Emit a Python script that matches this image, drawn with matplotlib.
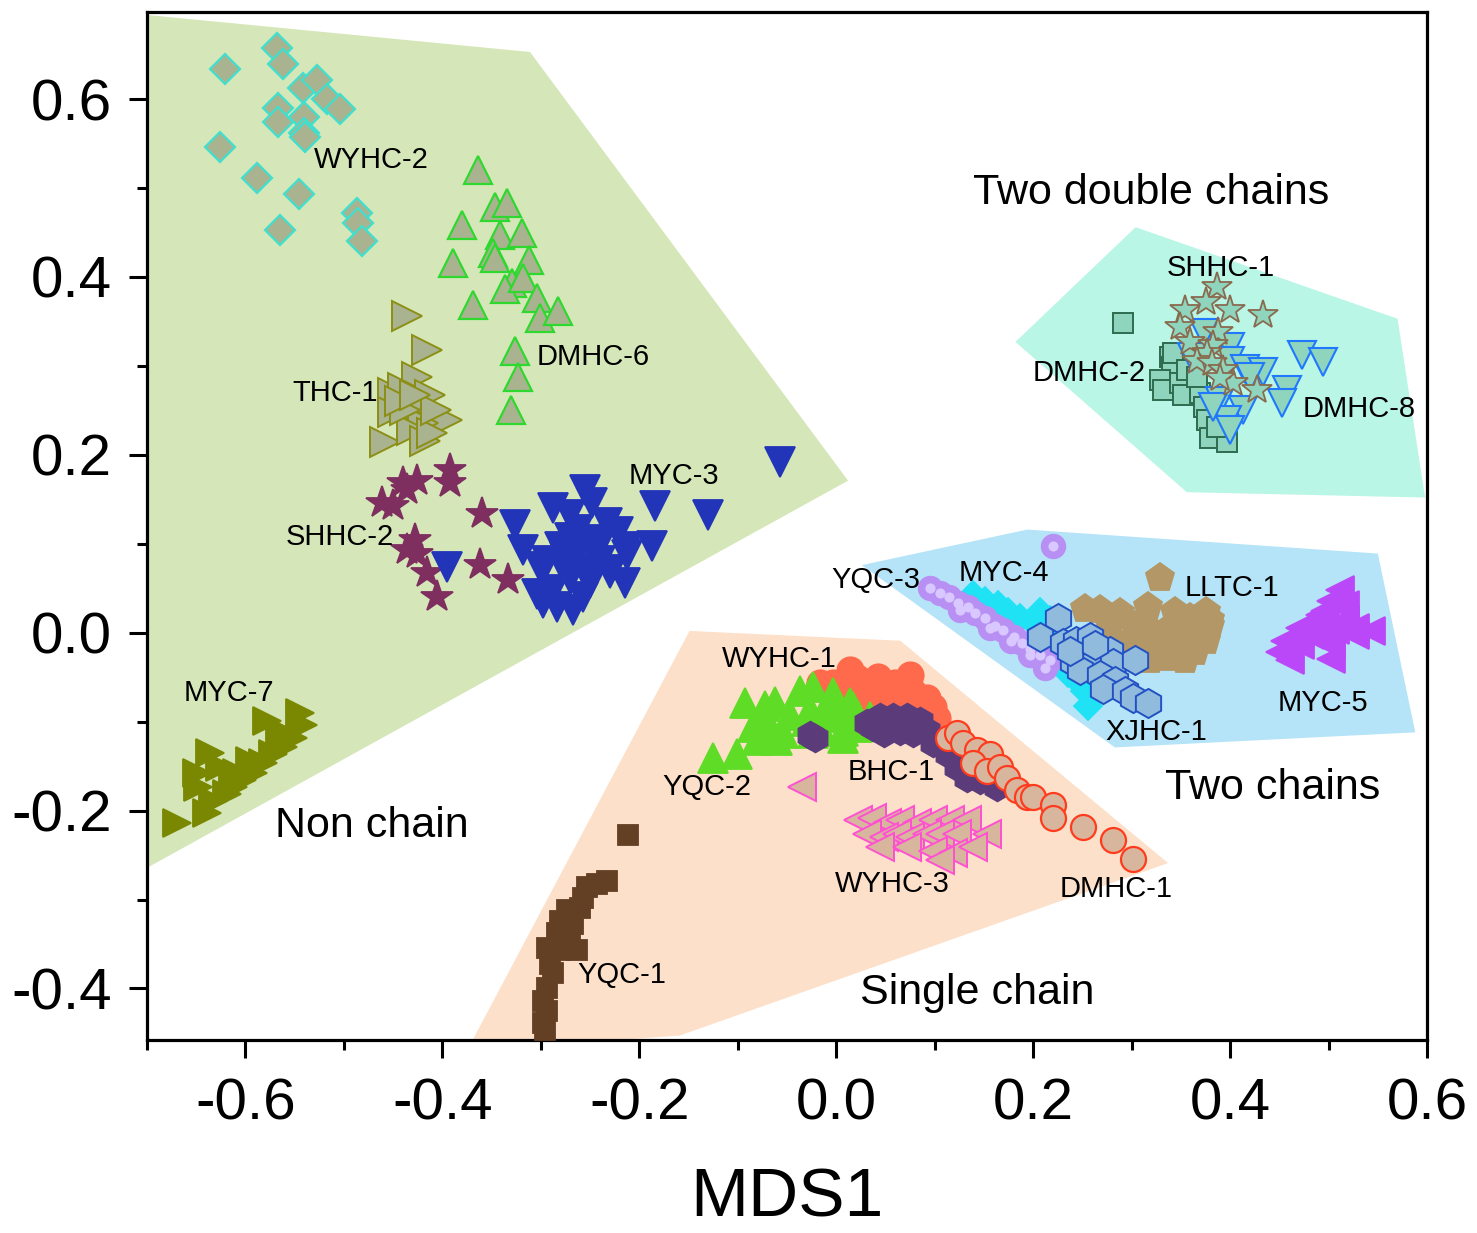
import matplotlib
matplotlib.use("Agg")
import matplotlib.pyplot as plt
from matplotlib.patches import Polygon

plt.rcParams['font.family'] = ['Liberation Sans', 'DejaVu Sans']

# ---- group outlines (hulls) ----
nonchain_hull = [(-0.75, 0.70), (-0.311, 0.653), (0.012, 0.171), (-0.75, -0.295)]
single_hull = [(-0.149, 0.002), (0.065, -0.009), (0.337, -0.259), (-0.159, -0.453), (-0.375, -0.47)]
double_hull = [(0.304, 0.456), (0.570, 0.353), (0.598, 0.152), (0.356, 0.158), (0.182, 0.327)]
two_hull = [(0.026, 0.076), (0.194, 0.116), (0.550, 0.089), (0.588, -0.112), (0.283, -0.129)]

# ---- Non chain ----
wyhc2_x = [-0.621, -0.568, -0.562, -0.542, -0.527, -0.517, -0.504, -0.567, -0.567, -0.541,
           -0.541, -0.540, -0.626, -0.588, -0.546, -0.487, -0.486, -0.482, -0.565]
wyhc2_y = [0.634, 0.658, 0.640, 0.613, 0.622, 0.600, 0.589, 0.590, 0.574, 0.580,
           0.562, 0.557, 0.546, 0.511, 0.493, 0.472, 0.461, 0.440, 0.453]

dmhc6_x = [-0.364, -0.347, -0.334, -0.380, -0.341, -0.319, -0.349, -0.347, -0.312, -0.389,
           -0.329, -0.336, -0.318, -0.304, -0.369, -0.301, -0.283, -0.326, -0.323, -0.330]
dmhc6_y = [0.520, 0.479, 0.483, 0.459, 0.447, 0.450, 0.427, 0.421, 0.419, 0.416,
           0.393, 0.387, 0.399, 0.376, 0.368, 0.354, 0.362, 0.317, 0.287, 0.250]

thc1_x = [-0.436, -0.416, -0.426, -0.450, -0.440, -0.413, -0.423, -0.450, -0.395, -0.420,
          -0.458, -0.431, -0.418, -0.411, -0.438, -0.406, -0.443, -0.428]
thc1_y = [0.356, 0.318, 0.287, 0.270, 0.275, 0.267, 0.256, 0.248, 0.239, 0.236,
          0.214, 0.228, 0.216, 0.225, 0.250, 0.250, 0.261, 0.267]

shhc2_x = [-0.392, -0.392, -0.426, -0.440, -0.436, -0.461, -0.450, -0.360, -0.428, -0.436,
           -0.426, -0.416, -0.362, -0.333, -0.405]
shhc2_y = [0.183, 0.168, 0.171, 0.168, 0.160, 0.146, 0.143, 0.134, 0.104, 0.093,
           0.089, 0.067, 0.076, 0.059, 0.040]

myc3_x = [-0.255, -0.248, -0.288, -0.270, -0.326, -0.184, -0.130, -0.233, -0.222, -0.270,
          -0.253, -0.318, -0.281, -0.212, -0.187, -0.263, -0.294, -0.240, -0.212, -0.395,
          -0.301, -0.277, -0.247, -0.230, -0.270, -0.304, -0.288, -0.250, -0.215, -0.230,
          -0.298, -0.284, -0.267, -0.257, -0.057, -0.262, -0.240, -0.275]
myc3_y = [0.160, 0.146, 0.140, 0.132, 0.121, 0.143, 0.132, 0.123, 0.113, 0.107,
          0.104, 0.093, 0.096, 0.096, 0.098, 0.089, 0.081, 0.081, 0.087, 0.074,
          0.074, 0.074, 0.070, 0.070, 0.062, 0.044, 0.048, 0.056, 0.056, 0.067,
          0.033, 0.029, 0.025, 0.040, 0.192, 0.115, 0.100, 0.085]

myc7_x = [-0.545, -0.542, -0.578, -0.552, -0.562, -0.572, -0.582, -0.595, -0.609, -0.613,
          -0.636, -0.649, -0.648, -0.639, -0.670, -0.633, -0.619, -0.603, -0.592, -0.626, -0.565]
myc7_y = [-0.090, -0.104, -0.099, -0.118, -0.129, -0.136, -0.147, -0.144, -0.158, -0.174,
          -0.135, -0.158, -0.174, -0.203, -0.214, -0.189, -0.181, -0.166, -0.158, -0.151, -0.110]

# ---- Single chain ----
yqc1_x = [-0.211, -0.233, -0.243, -0.253, -0.257, -0.260, -0.273, -0.281, -0.267, -0.284,
          -0.270, -0.294, -0.281, -0.263, -0.291, -0.288, -0.294, -0.298, -0.294, -0.298, -0.296]
yqc1_y = [-0.228, -0.279, -0.282, -0.286, -0.298, -0.309, -0.312, -0.324, -0.327, -0.338,
          -0.343, -0.354, -0.357, -0.357, -0.372, -0.383, -0.399, -0.414, -0.425, -0.439, -0.447]

wyhc1_x = [0.014, -0.016, -0.003, 0.021, 0.042, 0.031, 0.055, 0.075, 0.078, 0.092,
           0.098, 0.048, 0.065, 0.075, 0.037, 0.102, 0.007, 0.060, 0.029]
wyhc1_y = [-0.042, -0.056, -0.057, -0.051, -0.050, -0.065, -0.061, -0.048, -0.067, -0.073,
           -0.084, -0.079, -0.076, -0.085, -0.084, -0.096, -0.076, -0.056, -0.076]

yqc2_x = [-0.125, -0.101, -0.093, -0.072, -0.062, -0.037, -0.085, -0.067, -0.054, -0.080,
          -0.060, -0.030, -0.013, -0.003, 0.007, 0.017, -0.024, -0.024, -0.003, 0.014,
          -0.027, 0.004, 0.021, 0.034, -0.016, 0.007, 0.021, -0.047, -0.072]
yqc2_y = [-0.141, -0.136, -0.079, -0.082, -0.078, -0.065, -0.106, -0.106, -0.113, -0.121,
          -0.121, -0.099, -0.091, -0.076, -0.118, -0.084, -0.113, -0.061, -0.068, -0.079,
          -0.087, -0.095, -0.091, -0.095, -0.106, -0.110, -0.106, -0.093, -0.099]

bhc1_x = [-0.027, 0.031, 0.044, 0.058, 0.072, 0.085, 0.048, 0.065, 0.092, 0.098,
          0.113, 0.123, 0.133, 0.146, 0.163, 0.037, 0.078, -0.022]
bhc1_y = [-0.115, -0.102, -0.095, -0.095, -0.095, -0.099, -0.113, -0.110, -0.110, -0.124,
          -0.136, -0.151, -0.163, -0.166, -0.174, -0.106, -0.113, -0.118]

dmhc1_x = [0.113, 0.123, 0.129, 0.143, 0.156, 0.139, 0.153, 0.166, 0.173, 0.184,
           0.194, 0.200, 0.220, 0.220, 0.251, 0.281, 0.301]
dmhc1_y = [-0.118, -0.113, -0.124, -0.132, -0.136, -0.146, -0.155, -0.151, -0.163, -0.177,
           -0.185, -0.185, -0.194, -0.208, -0.219, -0.233, -0.254]

wyhc3_x = [0.022, 0.036, 0.052, 0.065, 0.082, 0.098, 0.116, 0.133, 0.153, 0.031,
           0.048, 0.062, 0.075, 0.092, 0.105, 0.123, 0.044, 0.072, 0.098, 0.119,
           0.139, 0.105, -0.035]
wyhc3_y = [-0.211, -0.208, -0.214, -0.211, -0.214, -0.211, -0.211, -0.211, -0.226, -0.226,
           -0.230, -0.226, -0.230, -0.226, -0.226, -0.226, -0.241, -0.241, -0.245, -0.248,
           -0.241, -0.256, -0.174]

# ---- Two chains ----
yqc3_x = [0.095, 0.105, 0.114, 0.124, 0.134, 0.141, 0.151, 0.161, 0.169, 0.180,
          0.189, 0.197, 0.207, 0.217, 0.220, 0.177, 0.197, 0.212, 0.156, 0.126]
yqc3_y = [0.050, 0.045, 0.040, 0.033, 0.029, 0.022, 0.016, 0.008, 0.003, -0.005,
          -0.012, -0.018, -0.025, -0.031, 0.097, -0.009, -0.025, -0.040, 0.005, 0.025]

myc4_x = [0.139, 0.151, 0.164, 0.174, 0.187, 0.200, 0.212, 0.219, 0.225, 0.229,
          0.235, 0.246, 0.253, 0.256, 0.207, 0.217]
myc4_y = [0.042, 0.036, 0.031, 0.023, 0.016, 0.012, 0.003, -0.009, -0.020, -0.033,
          -0.045, -0.054, -0.065, -0.082, 0.023, 0.014]

xjhc1_x = [0.225, 0.207, 0.230, 0.243, 0.258, 0.253, 0.268, 0.278, 0.240, 0.261,
           0.281, 0.303, 0.248, 0.268, 0.283, 0.271, 0.293, 0.301, 0.317, 0.237, 0.263]
xjhc1_y = [0.017, -0.005, -0.011, -0.009, -0.005, -0.025, -0.020, -0.020, -0.033, -0.034,
           -0.034, -0.031, -0.042, -0.048, -0.054, -0.063, -0.065, -0.073, -0.079, -0.020, -0.014]

lltc1_x = [0.329, 0.253, 0.268, 0.288, 0.317, 0.344, 0.359, 0.375, 0.278, 0.303,
           0.319, 0.339, 0.359, 0.380, 0.298, 0.324, 0.349, 0.375, 0.319, 0.339,
           0.364, 0.313, 0.354, 0.380]
lltc1_y = [0.061, 0.027, 0.025, 0.022, 0.029, 0.023, 0.017, 0.023, 0.008, 0.008,
           0.003, 0.005, 0.003, 0.014, -0.009, -0.014, -0.011, -0.009, -0.031, -0.028,
           -0.022, -0.020, -0.031, 0.008]

myc5_x = [0.512, 0.502, 0.517, 0.491, 0.517, 0.471, 0.491, 0.507, 0.527, 0.481,
          0.456, 0.471, 0.502, 0.451, 0.461, 0.502, 0.486, 0.527, 0.496, 0.466, 0.543]
myc5_y = [0.048, 0.036, 0.031, 0.020, 0.014, 0.005, 0.008, 0.003, 0.005, -0.003,
          -0.009, -0.014, -0.014, -0.022, -0.031, -0.029, 0.000, -0.003, 0.024, -0.006, 0.002]

# ---- Two double chains ----
dmhc2_x = [0.291, 0.339, 0.341, 0.329, 0.332, 0.349, 0.352, 0.369, 0.342, 0.356,
           0.373, 0.377, 0.380, 0.397, 0.387, 0.366]
dmhc2_y = [0.348, 0.310, 0.299, 0.284, 0.273, 0.281, 0.267, 0.269, 0.314, 0.295,
           0.254, 0.239, 0.219, 0.214, 0.231, 0.287]

dmhc8_x = [0.373, 0.400, 0.361, 0.400, 0.415, 0.433, 0.473, 0.494, 0.390, 0.413,
           0.458, 0.453, 0.397, 0.400, 0.383, 0.420]
dmhc8_y = [0.337, 0.321, 0.310, 0.306, 0.297, 0.293, 0.312, 0.304, 0.261, 0.250,
           0.273, 0.258, 0.239, 0.228, 0.254, 0.287]

shhc1_x = [0.387, 0.375, 0.354, 0.400, 0.433, 0.349, 0.388, 0.359, 0.383, 0.377,
           0.366, 0.382, 0.393, 0.403, 0.427, 0.390]
shhc1_y = [0.389, 0.372, 0.363, 0.363, 0.357, 0.344, 0.338, 0.327, 0.323, 0.314,
           0.306, 0.303, 0.295, 0.281, 0.273, 0.286]

# ---- labels ----
sample_labels = ["WYHC-2", "DMHC-6", "THC-1", "SHHC-2", "MYC-3", "MYC-7", "YQC-2", "WYHC-1",
                 "BHC-1", "WYHC-3", "DMHC-1", "YQC-1", "YQC-3", "MYC-4", "LLTC-1", "MYC-5",
                 "XJHC-1", "SHHC-1", "DMHC-2", "DMHC-8"]
sample_lx = [-0.531, -0.304, -0.552, -0.559, -0.211, -0.663, -0.177, -0.116,
             0.012, -0.001, 0.227, -0.263, -0.005, 0.124, 0.354, 0.448,
             0.273, 0.336, 0.199, 0.474]
sample_ly = [0.531, 0.310, 0.269, 0.108, 0.176, -0.068, -0.174, -0.029,
             -0.157, -0.283, -0.288, -0.385, 0.059, 0.067, 0.050, -0.079,
             -0.112, 0.410, 0.292, 0.252]

group_labels = ["Non chain", "Single chain", "Two chains", "Two double chains"]
group_lx = [-0.570, 0.024, 0.334, 0.139]
group_ly = [-0.217, -0.405, -0.175, 0.494]


fig = plt.figure(figsize=(14.77, 12.33), dpi=100)
ax = fig.add_axes([0.0995, 0.1565, 0.8667, 0.8338])

    # shaded group areas
for pts_, col in [(nonchain_hull, '#d5e7b8'), (single_hull, '#fde0c9'),
                  (double_hull, '#b9f6e6'), (two_hull, '#b5e4f8')]:
    ax.add_patch(Polygon(pts_, closed=True, facecolor=col, edgecolor='none', zorder=0))


def pts(x, y, m, ms, fc, ec=None, mew=1.3, z=3):
    """ Scatter one sample """
    ax.plot(x, y, ls='none', marker=m, ms=ms, mfc=fc, mec=ec if ec else fc,
            mew=mew, zorder=z)


olive_grey = '#a9b38f'
mint = '#8fd5bd'
tan = '#d8b69d'

pts(wyhc2_x, wyhc2_y, 'D', 15, olive_grey, '#3fe0cf', 1.6)
pts(dmhc6_x, dmhc6_y, '^', 20, olive_grey, '#2fd82f', 1.6)
pts(thc1_x, thc1_y, '>', 21, olive_grey, '#8c8f14', 1.4)
pts(shhc2_x, shhc2_y, '*', 24, '#7e2f5f')
pts(myc3_x, myc3_y, 'v', 21, '#2234b8')
pts(myc7_x, myc7_y, '>', 20, '#7a8700')

pts(yqc1_x, yqc1_y, 's', 15, '#633f23')
pts(wyhc1_x, wyhc1_y, 'o', 19, '#ff6a4c', z=3)
pts(yqc2_x, yqc2_y, '^', 21, '#5fdc25', z=4)
pts(bhc1_x, bhc1_y, 'h', 20, '#5b3b7a', z=5)
pts(dmhc1_x, dmhc1_y, 'o', 18, tan, '#ff3b1d', 1.6, z=6)
pts(wyhc3_x, wyhc3_y, '<', 20, tan, '#ff50d2', 1.4)

pts(lltc1_x, lltc1_y, 'p', 21, '#b39767')
pts(myc4_x, myc4_y, 'D', 14, '#1fe3f5', z=3)
pts(yqc3_x, yqc3_y, 'o', 17, '#b88ff2', z=4)
pts(yqc3_x, yqc3_y, 'o', 6, '#d9c8ff', z=4)
pts(xjhc1_x, xjhc1_y, 'h', 21, '#90bbdd', '#2251c4', 1.4, z=5)
pts(myc5_x, myc5_y, '<', 20, '#bb48f8')

pts(dmhc2_x, dmhc2_y, 's', 15, mint, '#2e6c50', 1.4, z=3)
pts(dmhc8_x, dmhc8_y, 'v', 20, mint, '#1f78ff', 1.5, z=4)
pts(shhc1_x, shhc1_y, '*', 22, mint, '#8a6a4e', 1.3, z=5)

for t, x, y in zip(sample_labels, sample_lx, sample_ly):
    ax.text(x, y, t, fontsize=21, ha='left', va='center', zorder=10)

for t, x, y in zip(group_labels, group_lx, group_ly):
    ax.text(x, y, t, fontsize=31, ha='left', va='center', zorder=10)

ax.set_xlim(-0.7, 0.6)
ax.set_ylim(-0.458, 0.698)
ax.set_xticks([-0.6, -0.4, -0.2, 0.0, 0.2, 0.4, 0.6])
ax.set_xticks([-0.7, -0.5, -0.3, -0.1, 0.1, 0.3, 0.5], minor=True)
ax.set_yticks([-0.4, -0.2, 0.0, 0.2, 0.4, 0.6])
ax.set_yticks([-0.3, -0.1, 0.1, 0.3, 0.5], minor=True)
ax.set_xticklabels(['-0.6', '-0.4', '-0.2', '0.0', '0.2', '0.4', '0.6'])
ax.set_yticklabels(['-0.4', '-0.2', '0.0', '0.2', '0.4', '0.6'])

ax.tick_params(axis='both', which='major', direction='out', length=13, width=2.2,
               labelsize=42, pad=12)
ax.tick_params(axis='both', which='minor', direction='out', length=7, width=2.2)
ax.tick_params(axis='x', which='major', pad=14)
for sp in ax.spines.values():
    sp.set_linewidth(2.3)

ax.set_xlabel("MDS1", fontsize=50, labelpad=25)

fig.savefig("out.png", dpi=100)
